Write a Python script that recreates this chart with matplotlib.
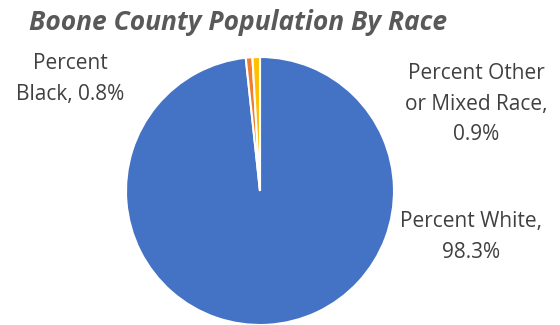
import matplotlib.pyplot as plt

# Population share by race
labels = ["Percent White", "Percent Black", "Percent Other\nor Mixed Race"]
values = [98.3, 0.8, 0.9]
colors = ["#4472C4", "#ED7D31", "#FFC000"]

plt.rcParams['font.family'] = ['Open Sans', 'DejaVu Sans']

fig = plt.figure(figsize=(5.6, 3.25), dpi=100)
ax = fig.add_axes([126/560, 0, 268/560, 268/325])

ax.pie(values, colors=colors, startangle=90, counterclock=False,
       wedgeprops=dict(edgecolor="white", linewidth=1.5))
ax.set_xlim(-1, 1)
ax.set_ylim(-1, 1)
ax.set_aspect("equal")

fig.text(238/560, 1 - 22/325, "Boone County Population By Race", ha="center", va="center",
         fontsize=19, fontweight="bold", fontstyle="italic", color="#595959")

txt = dict(fontsize=15, color="#404040", ha="center", va="center", linespacing=1.58)
fig.text(70/560, 1 - 79/325, "Percent\nBlack, %.1f%%" % values[1], **txt)
fig.text(476/560, 1 - 104/325, "Percent Other\nor Mixed Race,\n%.1f%%" % values[2], **txt)
fig.text(471/560, 1 - 237/325, "Percent White,\n%.1f%%" % values[0], **txt)

fig.savefig("out.png", dpi=100)
